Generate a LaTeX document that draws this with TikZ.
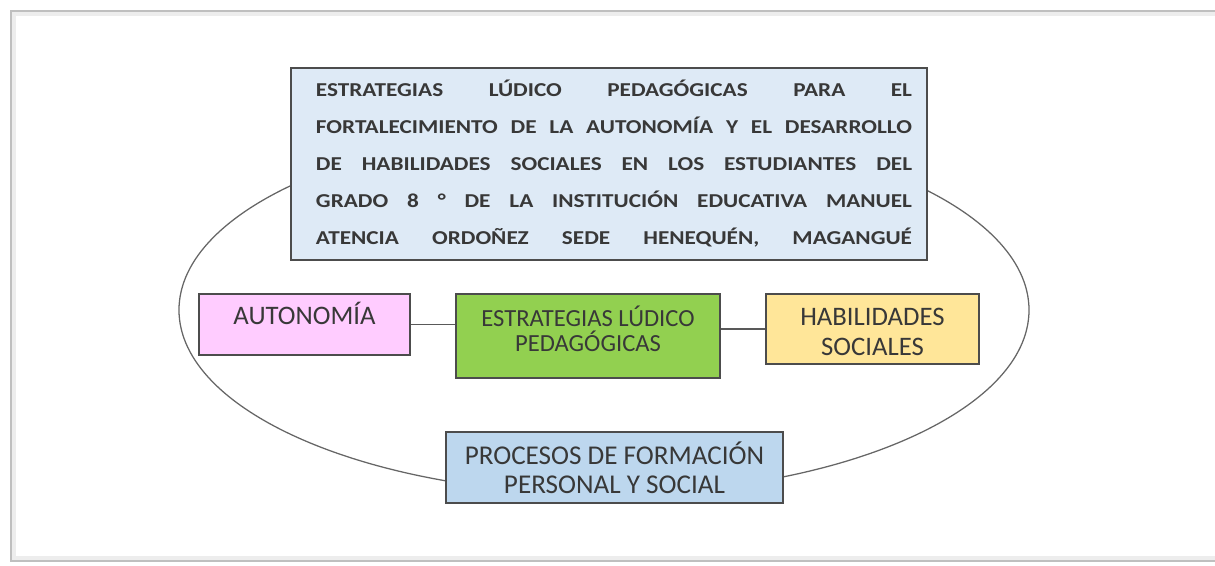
\documentclass[tikz,border=0pt]{standalone}
\usepackage{fontspec}
\setmainfont{Carlito}
\newfontfamily\titlefont[FakeStretch=1.18]{Carlito}
\definecolor{topBlue}{HTML}{DEEAF6}
\definecolor{pinkBox}{HTML}{FFCCFF}
\definecolor{greenBox}{HTML}{92D050}
\definecolor{yellowBox}{HTML}{FFE699}
\definecolor{procBlue}{HTML}{BDD7EE}
\definecolor{inkGray}{HTML}{383838}
\newcommand{\jline}[1]{\leavevmode\kern2.5mm\hbox to 149mm{#1}}
\tikzset{
  box/.style={draw=black!70, line width=0.9pt, text=inkGray, align=center, inner sep=0pt},
  boxtext/.style={text=inkGray, align=center, inner sep=0pt},
  link/.style={draw=black!65, line width=0.8pt},
}

\begin{document}
\begin{tikzpicture}[x=0.25mm, y=-0.25mm]
  \useasboundingbox (0,0) rectangle (1215,565);
  % ------- frame -------
  \draw[black!7, line width=4pt] (1215,13) -- (13,13) -- (13,559) -- (1215,559);
  \draw[black!25, line width=1pt] (1215,11) -- (11,11) -- (11,561) -- (1215,561);
  % ------- ellipse -------
  \draw[black!60, line width=0.9pt] (604,310) ellipse [x radius=106.25mm, y radius=46mm];
  % ------- title -------
  \node[box, fill=topBlue, minimum width=159mm, minimum height=48mm, text width=151.5mm, align=left,
        font=\titlefont\bfseries\fontsize{14}{26.3}\selectfont] (titulo) at (609,164) {%
    \jline{ESTRATEGIAS\hfill LÚDICO\hfill PEDAGÓGICAS\hfill PARA\hfill EL}\\
    \jline{FORTALECIMIENTO\hfill DE\hfill LA\hfill AUTONOMÍA\hfill Y\hfill EL\hfill DESARROLLO}\\
    \jline{DE\hfill HABILIDADES\hfill SOCIALES\hfill EN\hfill LOS\hfill ESTUDIANTES\hfill DEL}\\
    \jline{GRADO\hfill 8\hfill °\hfill DE\hfill LA\hfill INSTITUCIÓN\hfill EDUCATIVA\hfill MANUEL}\\
    \jline{ATENCIA\hfill ORDOÑEZ\hfill SEDE\hfill HENEQUÉN,\hfill MAGANGUÉ}};
  % ------- middle row -------
  \node[box, fill=pinkBox, minimum width=52.75mm, text height=7.6mm, text depth=7.6mm,
        font=\fontsize{19}{21}\selectfont] (autonomia) at (304.5,324.5) {AUTONOMÍA};
  \node[box, fill=greenBox, minimum width=66mm, minimum height=21mm] (ludico) at (588,336) {};
  \node[boxtext, font=\fontsize{17.5}{18}\selectfont] (ludicotxt) at ([yshift=1.75mm]ludico.center)
    {ESTRATEGIAS LÚDICO\\PEDAGÓGICAS};
  \node[box, fill=yellowBox, minimum width=53.25mm, minimum height=17.5mm] (habilidades) at (872.5,329) {};
  \node[boxtext, font=\fontsize{19}{21.3}\selectfont] (habilidadestxt) at ([yshift=-0.75mm]habilidades.center)
    {HABILIDADES\\SOCIALES};
  % ------- bottom -------
  \node[box, fill=procBlue, minimum width=84.25mm, minimum height=17.75mm,
        font=\fontsize{19.3}{20.6}\selectfont] (procesos) at (614.5,467.5) {PROCESOS DE FORMACIÓN\\PERSONAL Y SOCIAL};
  % ------- links -------
  \draw[link] (autonomia.east) -- (autonomia.east -| ludico.west);
  \draw[link] (habilidades.west) -- (habilidades.west -| ludico.east);
\end{tikzpicture}
\end{document}
